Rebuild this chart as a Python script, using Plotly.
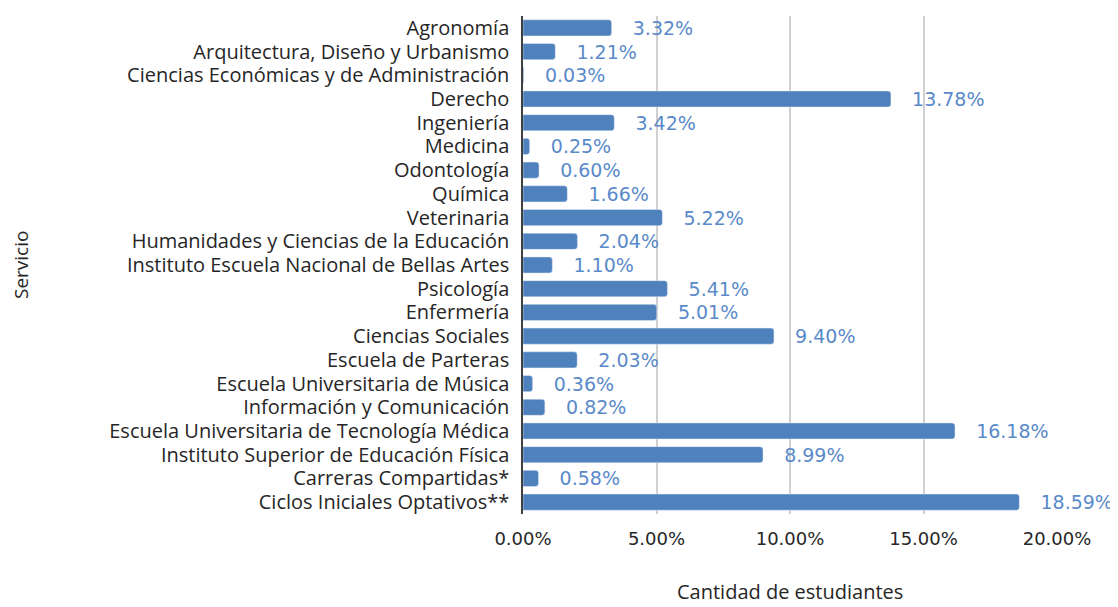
import plotly.graph_objects as go

servicios = [
    "Agronomía",
    "Arquitectura, Diseño y Urbanismo",
    "Ciencias Económicas y de Administración",
    "Derecho",
    "Ingeniería",
    "Medicina",
    "Odontología",
    "Química",
    "Veterinaria",
    "Humanidades y Ciencias de la Educación",
    "Instituto Escuela Nacional de Bellas Artes",
    "Psicología",
    "Enfermería",
    "Ciencias Sociales",
    "Escuela de Parteras",
    "Escuela Universitaria de Música",
    "Información y Comunicación",
    "Escuela Universitaria de Tecnología Médica",
    "Instituto Superior de Educación Física",
    "Carreras Compartidas*",
    "Ciclos Iniciales Optativos**",
]
porcentajes = [
    3.32, 1.21, 0.03, 13.78, 3.42, 0.25, 0.60, 1.66, 5.22, 2.04, 1.10,
    5.41, 5.01, 9.40, 2.03, 0.36, 0.82, 16.18, 8.99, 0.58, 18.59,
]
x_ticks = [0, 5, 10, 15, 20]

BAR = "#4F81BD"
LABEL = "#5A8AC9"

fig = go.Figure(
    go.Bar(
        x=[v / 100 for v in porcentajes],
        y=servicios,
        orientation="h",
        marker={"color": BAR, "cornerradius": 3},
        text=[f"   {v:.2f}%" for v in porcentajes],
        textposition="outside",
        constraintext="none",
        textfont={"family": "DejaVu Sans", "size": 19, "color": LABEL},
        cliponaxis=False,
        hoverinfo="skip",
    )
)

# the page body adds an 8px margin, so the figure is 8px smaller on each side
fig.update_layout(
    width=1110,
    height=599,
    margin={"l": 515, "r": 61, "t": 8, "b": 93},
    plot_bgcolor="white",
    paper_bgcolor="white",
    bargap=0.32,
    showlegend=False,
    font={"family": "Open Sans", "size": 20, "color": "#262626"},
    annotations=[
        {
            "text": "Cantidad de estudiantes",
            "xref": "paper", "yref": "paper",
            "x": 0.5, "y": -0.156, "yanchor": "middle",
            "showarrow": False,
            "font": {"size": 20},
        },
        {
            "text": "Servicio",
            "xref": "paper", "yref": "paper",
            "x": -0.94, "xanchor": "center", "y": 0.5,
            "textangle": -90,
            "showarrow": False,
            "font": {"size": 19},
        },
    ],
)
fig.update_xaxes(
    range=[0, 0.2],
    tickvals=[t / 100 for t in x_ticks],
    ticktext=[f"{t:.2f}%" for t in x_ticks],
    showgrid=True,
    gridcolor="#D0D0D0",
    gridwidth=1.5,
    zeroline=False,
    showline=False,
    ticks="",
    automargin=False,
    ticklabelstandoff=12,
    tickfont={"family": "DejaVu Sans", "size": 18},
)
fig.update_yaxes(
    autorange="reversed",
    tickmode="array",
    tickvals=servicios,
    showline=True,
    linecolor="#404040",
    linewidth=1.5,
    ticks="",
    automargin=False,
    ticklabelstandoff=8,
    tickfont={"size": 20},
)

fig.write_html("out.html")
